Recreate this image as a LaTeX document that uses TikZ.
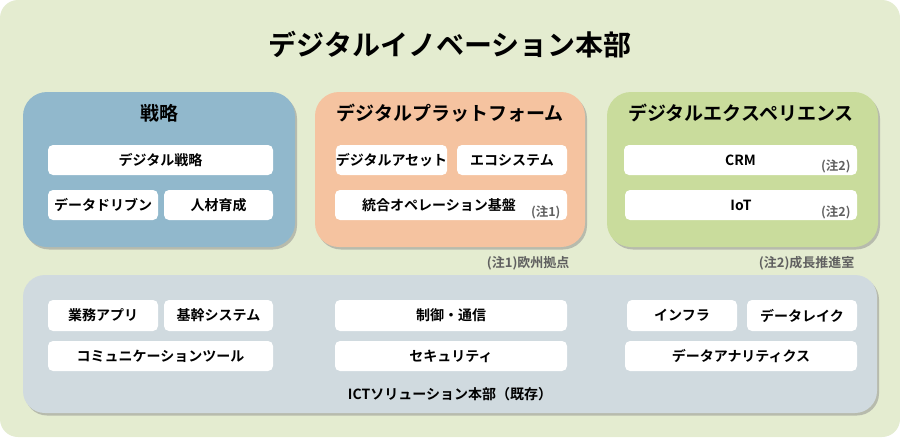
\documentclass[tikz,border=0pt]{standalone}
\usepackage{fontspec}
\setmainfont{Noto Sans CJK JP}[BoldFont={Noto Sans CJK JP Bold}]
\usetikzlibrary{shadows}
\definecolor{bgc}{HTML}{E4ECD0}
\definecolor{bluec}{HTML}{91B8CC}
\definecolor{orangec}{HTML}{F5C3A0}
\definecolor{greenc}{HTML}{C9DC9C}
\definecolor{grayc}{HTML}{D0DADF}
\definecolor{notec}{HTML}{606060}
\tikzset{
  group/.style={rounded corners=24pt, minimum height=155pt, inner sep=0pt,
    drop shadow={shadow xshift=2pt, shadow yshift=-2.5pt, fill=black!45, opacity=0.5}},
  item/.style={fill=white, rounded corners=5pt, minimum height=30pt, inner sep=0pt,
    font=\fontsize{14}{16}\selectfont\bfseries},
  gtitle/.style={font=\fontsize{19}{22}\selectfont\bfseries},
  note/.style={font=\fontsize{12.5}{14}\selectfont\bfseries, text=notec},
  fnote/.style={font=\fontsize{13}{15}\selectfont\bfseries, text=notec},
}
\begin{document}
\begin{tikzpicture}[x=1pt,y=-1pt]
\useasboundingbox (0,0) rectangle (900,437);
\fill[white] (0,0) rectangle (900,437);
\fill[bgc, rounded corners=18pt] (0,0) rectangle (900,437);
\node[font=\fontsize{28}{32}\selectfont\bfseries] (title) at (450,45) {デジタルイノベーション本部};

% groups
\node[group, fill=bluec, minimum width=272pt] (strat) at (159,169.5) {};
\node[group, fill=orangec, minimum width=270pt] (plat) at (450,169.5) {};
\node[group, fill=greenc, minimum width=271pt] (exp) at (742.5,169.5) {};
\node[group, fill=grayc, minimum width=854pt, minimum height=138pt, rounded corners=22pt] (ict) at (450,344) {};

\node[gtitle] (t1) at (159,113) {戦略};
\node[gtitle] (t2) at (450,113) {デジタルプラットフォーム};
\node[gtitle] (t3) at (741,113) {デジタルエクスペリエンス};

% strategy items
\node[item, minimum width=225pt] (ds) at (160.5,160) {デジタル戦略};
\node[item, minimum width=110pt] (dd) at (103,205) {データドリブン};
\node[item, minimum width=109pt] (jz) at (218.5,205) {人材育成};

% platform items
\node[item, minimum width=111pt] (da) at (391.5,160) {デジタルアセット};
\node[item, minimum width=110pt] (eco) at (512,160) {エコシステム};
\node[item, minimum width=232pt] (tg) at (451,205) {統合オペレーション基盤\hspace*{24pt}};
\node[note, anchor=east] (n1) at (564,212) {(注1)};

% experience items
\node[item, minimum width=233pt] (crm) at (740.5,160) {CRM};
\node[note, anchor=east] (n2) at (854,166) {(注2)};
\node[item, minimum width=232pt] (iot) at (741,205) {IoT};
\node[note, anchor=east] (n3) at (854,212) {(注2)};

\node[fnote, anchor=east] (f1) at (573,263) {(注1)欧州拠点};
\node[fnote, anchor=east] (f2) at (858,263) {(注2)成長推進室};

% ICT items
\node[item, minimum width=110pt, minimum height=31pt] (gy) at (103,315.5) {業務アプリ};
\node[item, minimum width=109pt, minimum height=31pt] (kk) at (218.5,315.5) {基幹システム};
\node[item, minimum width=225pt] (cm) at (160.5,356) {コミュニケーションツール};
\node[item, minimum width=232pt, minimum height=31pt] (sg) at (451,315.5) {制御・通信};
\node[item, minimum width=232pt] (sc) at (451,356) {セキュリティ};
\node[item, minimum width=110pt, minimum height=31pt] (inf) at (682,315.5) {インフラ};
\node[item, minimum width=110pt, minimum height=31pt] (lk) at (802,315.5) {データレイク};
\node[item, minimum width=232pt] (an) at (741,356) {データアナリティクス};
\node[font=\fontsize{14}{16}\selectfont\bfseries] (ictl) at (450,394) {ICTソリューション本部（既存）};
\end{tikzpicture}
\end{document}
